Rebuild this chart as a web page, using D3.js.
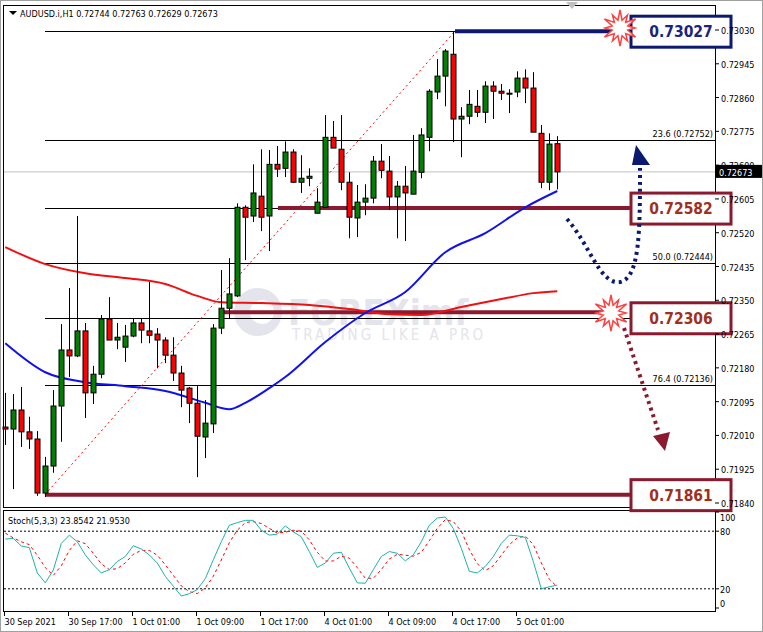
<!DOCTYPE html>
<html><head><meta charset="utf-8">
<script src="https://cdn.jsdelivr.net/npm/d3@7"></script>
<style>body{margin:0;background:#fff}svg{display:block}text{font-family:"DejaVu Sans Condensed","DejaVu Sans",sans-serif}</style>
</head><body><svg id="c" width="763" height="632"></svg>
<script>
// Prices in points (1 point = 0.00001)
const open  = [72031,72026,72074,72019,72001,71865,71933,72084,72225,72210,72273,72117,72164,72303,72250,72232,72260,72293,72273,72265,72250,72212,72167,72129,72091,72006,72039,72280,72330,72361,72584,72562,72612,72562,72692,72682,72723,72647,72657,72569,72584,72760,72730,72647,72557,72597,72607,72700,72675,72610,72637,72617,72672,72760,72874,72914,72969,72806,72813,72838,72823,72889,72876,72871,72874,72909,72884,72770,72647,72744];
const high  = [72117,72114,72132,72057,72021,71956,72124,72290,72381,72562,72293,72185,72313,72358,72293,72288,72303,72303,72396,72280,72257,72257,72185,72132,72134,72099,72290,72426,72456,72594,72589,72692,72730,72728,72738,72750,72730,72715,72682,72632,72816,72801,72816,72672,72640,72642,72713,72743,72713,72650,72688,72766,72783,72881,72957,72982,73027,72836,72879,72879,72901,72901,72894,72881,72926,72931,72924,72791,72770,72763];
const low   = [71986,71875,71981,71976,71858,71855,71916,71994,72157,72207,72054,72089,72154,72250,72227,72195,72257,72242,72242,72179,72192,72147,72081,72041,71905,71953,72016,72265,72305,72358,72451,72547,72524,72474,72660,72660,72645,72620,72637,72569,72584,72733,72627,72506,72509,72564,72594,72657,72577,72506,72499,72617,72657,72725,72856,72838,72748,72710,72793,72811,72796,72806,72854,72821,72861,72846,72773,72632,72627,72629];
const close = [72026,72074,72019,72001,71865,71933,72084,72225,72210,72273,72117,72164,72303,72250,72257,72260,72293,72275,72262,72250,72212,72167,72124,72091,72008,72041,72280,72330,72366,72584,72559,72620,72559,72692,72680,72723,72647,72657,72662,72597,72760,72733,72647,72559,72597,72607,72700,72677,72610,72637,72620,72675,72766,72876,72914,72977,72806,72813,72843,72823,72889,72876,72871,72871,72909,72884,72773,72647,72743,72673];
// moving averages sampled at bar indices
const maFastIdx = [0,5,10,15,20,25,28,30,33,35,40,45,50,55,60,65,69];
const maFast    = [72242,72169,72144,72134,72122,72092,72076,72092,72129,72157,72245,72318,72371,72471,72519,72584,72625];
const maSlowIdx = [0,5,10,15,20,24,27,32,38,43,48,52,57,62,66,69];
const maSlow    = [72484,72441,72418,72406,72391,72361,72345,72343,72338,72328,72315,72313,72333,72353,72368,72373];
const stochK = [71.8,72.5,64.6,62.9,36.5,26.2,39.6,67.3,75.9,69.0,55.3,45.0,36.5,39.9,48.5,53.6,64.9,61.5,55.3,46.8,33.0,22.7,12.5,14.9,19.3,30.6,50.2,69.0,86.2,88.9,91.3,91.3,81.1,75.9,76.9,85.5,79.3,74.2,58.8,42.3,46.8,57.0,58.1,41.6,26.2,25.8,39.9,53.6,58.8,57.0,49.1,55.3,69.0,86.2,93.7,94.8,82.8,62.2,38.2,36.5,43.3,53.6,67.3,75.9,75.2,73.5,48.5,20.0,22.1,23.85];
const stochD = [78,73,69,66,55,42,34,44,60,70,67,57,46,40,41,47,56,60,60,55,45,34,23,17,15,21,33,50,68,81,89,90,88,83,78,79,81,80,71,58,49,49,54,52,42,31,31,40,51,56,55,54,58,70,83,92,90,80,61,46,39,44,55,66,73,75,66,47,30,21.95];
const priceTicks = [0.73030,0.72945,0.72860,0.72775,0.72690,0.72605,0.72520,0.72435,0.72350,0.72265,0.72180,0.72095,0.72010,0.71925,0.71840];
const timeLabels = ["30 Sep 2021","30 Sep 17:00","1 Oct 01:00","1 Oct 09:00","1 Oct 17:00","4 Oct 01:00","4 Oct 09:00","4 Oct 17:00","5 Oct 01:00"];
const fibLevels = [{lv:"0.0",p:0.73027},{lv:"23.6",p:0.72752,lab:true},{lv:"38.2",p:0.72582},{lv:"50.0",p:0.72444,lab:true},{lv:"61.8",p:0.72306},{lv:"76.4",p:0.72136,lab:true},{lv:"100.0",p:0.71861}];
const boxes = [{t:"0.73027",p:0.73027,c:"#0b1a6e",tc:"#1a237e"},{t:"0.72582",p:0.72582,c:"#8b1a2e",tc:"#a0301e"},{t:"0.72306",p:0.72306,c:"#8b1a2e",tc:"#a0301e"},{t:"0.71861",p:0.71861,c:"#8b1a2e",tc:"#a0301e"}];

const svg = d3.select("#c");
const x = d3.scaleLinear().domain([0,69]).range([5.3,557.3]);
const y = d3.scaleLinear().domain([0.71840,0.73030]).range([503,30]);
const ys = d3.scaleLinear().domain([0,100]).range([608,512]);
const P = v => v/1e5;
const FS = 9;

svg.append("rect").attr("x",0.5).attr("y",0.5).attr("width",762).attr("height",631).attr("fill","#fff").attr("stroke","#a0a0a0");
svg.append("rect").attr("x",3.5).attr("y",5.5).attr("width",712).attr("height",502).attr("fill","none").attr("stroke","#000");
svg.append("rect").attr("x",3.5).attr("y",510.5).attr("width",712).attr("height",101).attr("fill","none").attr("stroke","#000");
svg.append("path").attr("d","M566,2 L578,2 L572,9 Z").attr("fill","#c0c0c0");

// watermark
svg.append("circle").attr("cx",258).attr("cy",312).attr("r",24).attr("fill","#e3e4ec");
svg.append("circle").attr("cx",262).attr("cy",312).attr("r",12).attr("fill","#fff");
svg.append("text").attr("x",288).attr("y",325).attr("font-size",36).attr("font-weight","bold").attr("fill","#e3e4ec").text("FOREXimf");
svg.append("text").attr("x",292).attr("y",340).attr("font-size",15).attr("fill","#e3e4ec").attr("letter-spacing",3).text("TRADING LIKE A PRO");

svg.append("line").attr("x1",4).attr("x2",715).attr("y1",y(0.72673)).attr("y2",y(0.72673)).attr("stroke","#c0c0c0");

fibLevels.forEach(f=>{
  svg.append("line").attr("x1",45).attr("x2",715).attr("y1",Math.round(y(f.p))+0.5).attr("y2",Math.round(y(f.p))+0.5).attr("stroke","#000");
  if(f.lab) svg.append("text").attr("x",713).attr("y",y(f.p)-3).attr("text-anchor","end").attr("font-size",FS).text(`${f.lv} (${f.p.toFixed(5)})`);
});
svg.append("line").attr("x1",45).attr("y1",y(0.71861)).attr("x2",455).attr("y2",y(0.73027)).attr("stroke","red").attr("stroke-dasharray","2,3");

svg.append("line").attr("x1",455).attr("x2",630).attr("y1",y(0.73027)).attr("y2",y(0.73027)).attr("stroke","#0b1a6e").attr("stroke-width",4);
svg.append("line").attr("x1",278).attr("x2",632).attr("y1",y(0.72582)).attr("y2",y(0.72582)).attr("stroke","#8b1a2e").attr("stroke-width",4);
svg.append("line").attr("x1",222).attr("x2",612).attr("y1",y(0.72320)).attr("y2",y(0.72320)).attr("stroke","#8b1a2e").attr("stroke-width",4);
svg.append("line").attr("x1",45).attr("x2",630).attr("y1",y(0.71861)).attr("y2",y(0.71861)).attr("stroke","#8b1a2e").attr("stroke-width",4);

const line = d3.line().x(d=>x(d[0])).y(d=>y(P(d[1]))).curve(d3.curveMonotoneX);
svg.append("path").attr("d",line(maSlowIdx.map((d,i)=>[d,maSlow[i]]))).attr("fill","none").attr("stroke","#f01010").attr("stroke-width",2);
svg.append("path").attr("d",line(maFastIdx.map((d,i)=>[d,maFast[i]]))).attr("fill","none").attr("stroke","#1010f0").attr("stroke-width",2);

const g = svg.append("g");
open.forEach((o,i)=>{
  const c=close[i], cx=Math.round(x(i))+0.5, up=c>=o;
  g.append("line").attr("x1",cx).attr("x2",cx).attr("y1",y(P(high[i]))).attr("y2",y(P(low[i]))).attr("stroke","#000");
  const t=y(P(Math.max(o,c))), b=y(P(Math.min(o,c)));
  g.append("rect").attr("x",cx-2.5).attr("y",t).attr("width",5).attr("height",Math.max(1,b-t)).attr("fill",up?"#008000":"#ff0000").attr("stroke","#000");
});

boxes.forEach(b=>{
  const cy=y(b.p);
  svg.append("rect").attr("x",631).attr("y",cy-15).attr("width",100).attr("height",31).attr("fill","#fff").attr("stroke",b.c).attr("stroke-width",3);
  svg.append("text").attr("x",681).attr("y",cy+6).attr("text-anchor","middle").attr("font-size",15.5).attr("font-weight","bold").attr("font-family","Liberation Sans, Arial").attr("fill",b.tc).text(b.t);
});
function star(cx,cy){
  const pts=d3.range(24).map(k=>{const a=k*Math.PI/12, r=k%2?8:18+(k%4?0:-3);return [cx+r*Math.cos(a),cy+r*Math.sin(a)];});
  svg.append("path").attr("d","M"+pts.join("L")+"Z").attr("fill","#fff").attr("stroke","#ff4040").attr("stroke-width",1.5);
}
star(620,28); star(611,313);

svg.append("path").attr("d","M567,219 C590,245 600,285 620,282 C640,278 640,230 640,168").attr("fill","none").attr("stroke","#0b1a6e").attr("stroke-width",4).attr("stroke-dasharray","3,4");
svg.append("path").attr("d","M636,145 L650,165 L632,165 Z").attr("fill","#0b1a6e");
svg.append("path").attr("d","M624,328 L658,430").attr("stroke","#8b1a2e").attr("stroke-width",4).attr("stroke-dasharray","3,4");
svg.append("path").attr("d","M653,436 L670,432 L665,451 Z").attr("fill","#8b1a2e");

priceTicks.forEach(p=>{
  const yy=y(p);
  svg.append("line").attr("x1",715).attr("x2",719).attr("y1",yy).attr("y2",yy).attr("stroke","#000");
  svg.append("text").attr("x",721).attr("y",yy+4).attr("font-size",FS).text(p.toFixed(5));
});
svg.append("rect").attr("x",716).attr("y",y(0.72673)-7).attr("width",46).attr("height",13).attr("fill","#000");
svg.append("text").attr("x",719).attr("y",y(0.72673)+4).attr("font-size",FS).attr("fill","#fff").text("0.72673");

svg.append("path").attr("d","M9,11 L17,11 L13,15 Z").attr("fill","#000");
svg.append("text").attr("x",20).attr("y",17).attr("font-size",FS).text("AUDUSD.i,H1  0.72744 0.72763 0.72629 0.72673");

[80,20].forEach(v=>svg.append("line").attr("x1",4).attr("x2",715).attr("y1",ys(v)).attr("y2",ys(v)).attr("stroke","#000").attr("stroke-dasharray","2,2"));
const sLab = [{v:100,dy:9},{v:80,dy:4},{v:20,dy:4},{v:0,dy:-1}];
sLab.forEach(s=>{
  svg.append("line").attr("x1",715).attr("x2",719).attr("y1",ys(s.v)).attr("y2",ys(s.v)).attr("stroke","#000");
  svg.append("text").attr("x",720).attr("y",ys(s.v)+s.dy).attr("font-size",FS).text(s.v);
});
const sl = d3.line().x((d,i)=>x(i)).y(d=>ys(d));
svg.append("path").attr("d",sl(stochD)).attr("fill","none").attr("stroke","#ff0000").attr("stroke-dasharray","3,3");
svg.append("path").attr("d",sl(stochK)).attr("fill","none").attr("stroke","#20b2aa");
svg.append("text").attr("x",8).attr("y",524).attr("font-size",FS).text("Stoch(5,3,3) 23.8542 21.9530");

timeLabels.forEach((t,k)=>{
  const xx=Math.round(x(k*8))-0.5;
  svg.append("line").attr("x1",xx).attr("x2",xx).attr("y1",612).attr("y2",616).attr("stroke","#000");
  svg.append("text").attr("x",xx).attr("y",625).attr("font-size",FS).text(t);
});
</script></body></html>
